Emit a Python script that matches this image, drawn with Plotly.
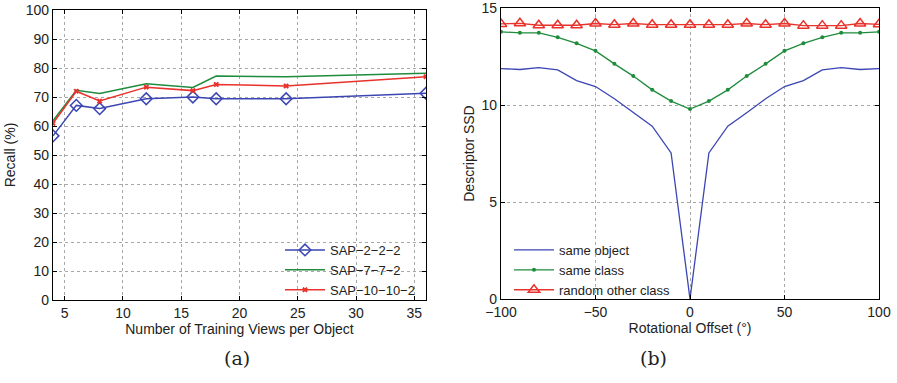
import plotly.graph_objects as go

# ---- data (a) ----
views = [4, 6, 8, 12, 16, 18, 24, 36]
sap_2_2_2 = [56.6, 67.1, 66.0, 69.4, 70.0, 69.4, 69.4, 71.3]
sap_7_7_2 = [61.8, 72.3, 71.2, 74.6, 73.3, 77.2, 77.0, 78.2]
sap_10_10_2 = [60.9, 72.0, 68.6, 73.4, 72.2, 74.3, 73.8, 77.0]

# ---- data (b) ----
offset = [-100, -90, -80, -70, -60, -50, -40, -30, -20, -10, 0,
          10, 20, 30, 40, 50, 60, 70, 80, 90, 100]
same_object = [11.88, 11.83, 11.93, 11.81, 11.26, 10.95, 10.32, 9.60, 8.91, 7.53, 0.0,
               7.53, 8.91, 9.60, 10.32, 10.95, 11.26, 11.81, 11.93, 11.83, 11.88]
same_class = [13.77, 13.72, 13.72, 13.49, 13.18, 12.79, 12.12, 11.49, 10.78, 10.20, 9.79,
              10.20, 10.78, 11.49, 12.12, 12.79, 13.18, 13.49, 13.72, 13.72, 13.77]
random_other = [14.18, 14.21, 14.11, 14.11, 14.11, 14.20, 14.14, 14.20, 14.14, 14.14, 14.14,
                14.14, 14.14, 14.20, 14.14, 14.20, 14.09, 14.09, 14.09, 14.20, 14.16]

BLUE = "#3b46b3"
GREEN = "#1e8c3c"
RED = "#e8322b"
FONT = "Liberation Sans, Arial, sans-serif"

W, H = 897, 383

def fx(px):
    return min(1.0, max(0.0, px / W))

def fy(py):
    return min(1.0, max(0.0, 1 - py / H))

fig = go.Figure()

# (a)
fig.add_trace(go.Scatter(x=views, y=sap_2_2_2, name="SAP\u22122\u22122\u22122", mode="lines+markers",
                         line=dict(color=BLUE, width=1.5),
                         marker=dict(symbol="diamond-open", size=9, color=BLUE, line=dict(width=1.5)),
                         xaxis="x", yaxis="y", legend="legend"))
fig.add_trace(go.Scatter(x=views, y=sap_7_7_2, name="SAP\u22127\u22127\u22122", mode="lines",
                         line=dict(color=GREEN, width=1.5),
                         xaxis="x", yaxis="y", legend="legend"))
fig.add_trace(go.Scatter(x=views, y=sap_10_10_2, name="SAP\u221210\u221210\u22122", mode="lines+markers",
                         line=dict(color=RED, width=1.5),
                         marker=dict(symbol="x", size=5, color=RED),
                         xaxis="x", yaxis="y", legend="legend"))

# (b)
fig.add_trace(go.Scatter(x=offset, y=same_object, name="same object", mode="lines",
                         line=dict(color=BLUE, width=1.3),
                         xaxis="x2", yaxis="y2", legend="legend2"))
fig.add_trace(go.Scatter(x=offset, y=same_class, name="same class", mode="lines+markers",
                         line=dict(color=GREEN, width=1.3),
                         marker=dict(symbol="circle", size=4, color=GREEN),
                         xaxis="x2", yaxis="y2", legend="legend2"))
fig.add_trace(go.Scatter(x=offset, y=random_other, name="random other class", mode="lines+markers",
                         line=dict(color=RED, width=1.3),
                         marker=dict(symbol="triangle-up-open", size=10, color=RED, line=dict(width=1.5)),
                         xaxis="x2", yaxis="y2", legend="legend2"))

axis_common = dict(showline=True, linecolor="black", linewidth=1.2, mirror="ticks",
                   ticks="inside", ticklen=4, tickcolor="black", automargin=False,
                   ticklabeloverflow="allow",
                   showgrid=True, gridcolor="#a8a8a8", griddash="dot", gridwidth=1,
                   zeroline=False, tickfont=dict(family=FONT, size=14, color="#222"),
                   title_font=dict(family=FONT, size=14, color="#222"))

fig.update_layout(
    template="none",
    width=W, height=H,
    margin=dict(l=0, r=0, t=0, b=0, pad=0),
    paper_bgcolor="white", plot_bgcolor="white",
    font=dict(family=FONT, size=14, color="#222"),
    xaxis=dict(domain=[fx(53), fx(426)], range=[4, 36], tickvals=[5, 10, 15, 20, 25, 30, 35],
               anchor="y", title=dict(text="Number of Training Views per Object", standoff=1), **axis_common),
    yaxis=dict(domain=[fy(300), fy(10)], range=[0, 100], dtick=10, anchor="x",
               title=dict(text="Recall (%)", standoff=6), **axis_common),
    xaxis2=dict(domain=[fx(501), fx(879)], range=[-100, 100], dtick=50, anchor="y2",
                title=dict(text="Rotational Offset (\u00b0)", standoff=1), **axis_common),
    yaxis2=dict(domain=[fy(299), fy(8)], range=[0, 15], dtick=5, anchor="x2",
                title=dict(text="Descriptor SSD", standoff=3), **axis_common),
    legend=dict(x=fx(280), y=fy(235), xanchor="left", yanchor="top",
                bgcolor="rgba(0,0,0,0)", font=dict(family=FONT, size=13, color="#222"),
                tracegroupgap=0, itemwidth=40),
    legend2=dict(x=fx(509), y=fy(235), xanchor="left", yanchor="top",
                 bgcolor="rgba(0,0,0,0)", font=dict(family=FONT, size=13, color="#222"),
                 tracegroupgap=0, itemwidth=40),
    annotations=[
        dict(text="(a)", x=fx(222), y=fy(371), xref="paper", yref="paper", showarrow=False,
             font=dict(family="DejaVu Serif, Liberation Serif, serif", size=19, color="#222")),
        dict(text="(b)", x=fx(669), y=fy(371), xref="paper", yref="paper", showarrow=False,
             font=dict(family="DejaVu Serif, Liberation Serif, serif", size=19, color="#222")),
    ],
)

fig.write_html("out.html", config={"displayModeBar": False},
               post_script="document.body.style.margin='0px';document.body.style.padding='0px';")
